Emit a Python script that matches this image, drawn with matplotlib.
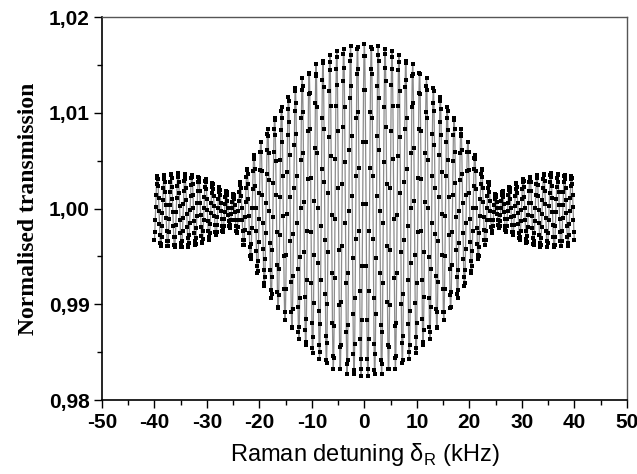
import numpy as np
import matplotlib
matplotlib.use("Agg")
import matplotlib.pyplot as plt
from matplotlib.ticker import FuncFormatter, MultipleLocator

# Envelope of the oscillating transmission (kHz, half-amplitude)
env_x = [-40, -37.5, -35, -32.5, -30, -27.5, -25, -22.5, -20, -17.5, -15, -12.5, -10, -7.5, -5, -2.5, 0,
         2.5, 5, 7.5, 10, 12.5, 15, 17.5, 20, 22.5, 25, 27.5, 30, 32.5, 35, 37.5, 40]
env_amp = [0.0036, 0.0038, 0.0039, 0.0037, 0.0032, 0.0024, 0.0017, 0.0042, 0.0070, 0.0094, 0.0115, 0.0134,
           0.0149, 0.0160, 0.0168, 0.0172, 0.0174,
           0.0172, 0.0168, 0.0160, 0.0149, 0.0134, 0.0115, 0.0094, 0.0070, 0.0042, 0.0017, 0.0024,
           0.0032, 0.0037, 0.0039, 0.0038, 0.0036]
baseline = 0.9998
fringe_period_khz = 1.315   # spacing of the fast fringes
n_samples = 1001
x_ticks = [-50, -40, -30, -20, -10, 0, 10, 20, 30, 40, 50]
y_ticks = [0.98, 0.99, 1.00, 1.01, 1.02]

x = np.linspace(-40, 40, n_samples)
amp = np.interp(x, env_x, env_amp)
y = baseline + amp * np.cos(2 * np.pi * x / fringe_period_khz)

fig = plt.figure(figsize=(6.37, 4.74), dpi=100)
ax = fig.add_axes([0.160, 0.156, 0.824, 0.808])
ax.plot(x, y, color="#8c8c8c", lw=0.9, zorder=2)
ax.plot(x, y, ls="none", marker="s", ms=2.4, mew=0, color="black", zorder=3)

ax.set_xlim(-50, 50)
ax.set_ylim(0.98, 1.02)
ax.set_xticks(x_ticks)
ax.set_yticks(y_ticks)
ax.xaxis.set_minor_locator(MultipleLocator(5))
ax.yaxis.set_minor_locator(MultipleLocator(0.005))
ax.tick_params(which="major", direction="out", length=6, width=1, top=False, right=False,
               labelsize=15, pad=3)
ax.tick_params(which="minor", direction="out", length=3.5, width=1, top=False, right=False)
ax.yaxis.set_major_formatter(FuncFormatter(lambda v, p: f"{v:.2f}".replace(".", ",")))
ax.xaxis.set_major_formatter(FuncFormatter(lambda v, p: f"{v:.0f}"))
for lab in ax.get_xticklabels() + ax.get_yticklabels():
    lab.set_fontfamily("Liberation Sans")
    lab.set_fontweight("bold")

for s in ["left", "bottom"]:
    ax.spines[s].set_linewidth(1.2)
    ax.spines[s].set_color("black")
for s in ["top", "right"]:
    ax.spines[s].set_linewidth(1.0)
    ax.spines[s].set_color("#555555")

ax.set_xlabel("Raman detuning δ$_\\mathregular{R}$ (kHz)", fontsize=17, family="Liberation Sans",
              labelpad=7)
ax.set_ylabel("Normalised transmission", fontsize=17, family="Liberation Serif", fontweight="bold",
              labelpad=7)

fig.savefig("out.png", dpi=100)
